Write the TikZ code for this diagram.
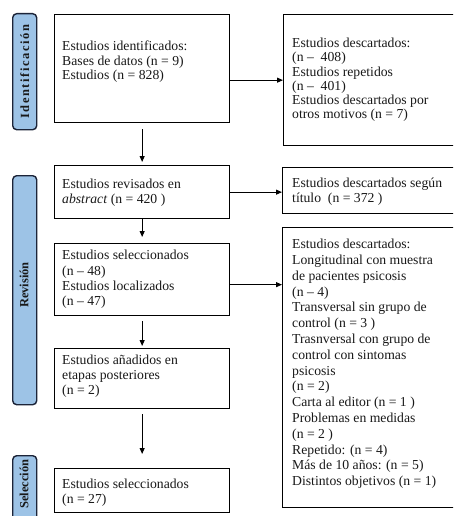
\documentclass[tikz,border=0pt]{standalone}
\usepackage{fontspec}
\setmainfont{Liberation Serif}
\usetikzlibrary{arrows.meta}
\definecolor{barfill}{RGB}{157,195,230}
\definecolor{barline}{RGB}{28,36,56}
\definecolor{txtcol}{RGB}{25,25,25}
\tikzset{
  box/.style={draw=black, line width=1.3pt, inner sep=0pt, anchor=north west},
  bar/.style={draw=barline, fill=barfill, line width=1.4pt, rounded corners=4pt, inner sep=0pt, anchor=north west},
  txt/.style={font=\fontsize{13.7}{#1}\selectfont, text=txtcol, align=left, inner sep=0pt, anchor=north west},
  txt/.default=15,
  bartxt/.style={font=\bfseries\fontsize{12.5}{13}\selectfont, text=txtcol, rotate=90, inner sep=0pt},
  arr/.style={draw=black, line width=0.9pt, -{Triangle[length=6pt,width=5pt]}},
}
\newcommand{\ks}{\kern1.6pt}
\begin{document}
\begin{tikzpicture}[x=1pt,y=-1pt]
\useasboundingbox (0,0) rectangle (453,516);
\clip (0,0) rectangle (453,516);
\fill[white] (0,0) rectangle (453,516);

% phase bars
\node[bar, minimum width=24pt, minimum height=116pt] (bar1) at (12,13) {};
\node[bar, minimum width=24pt, minimum height=229pt] (bar2) at (12,175) {};
\node[bar, minimum width=24pt, minimum height=90pt] (bar3) at (12,455) {};
\node[bartxt] (lab1) at (bar1.center) {I\ks d\ks e\ks n\ks t\ks i\ks f\ks i\ks c\ks a\ks c\ks i\ks ó\ks n};
\node[bartxt] (lab2) at (24,285) {Revisión};
\node[bartxt] (lab3) at (24,484) {Selección};

% left boxes
\node[box, minimum width=175pt, minimum height=108pt] (b1) at (54,14) {};
\node[box, minimum width=175pt, minimum height=53pt] (b2) at (54,165) {};
\node[box, minimum width=175pt, minimum height=72pt] (b3) at (54,243) {};
\node[box, minimum width=175pt, minimum height=60pt] (b4) at (54,348) {};
\node[box, minimum width=175pt, minimum height=44pt] (b5) at (54,468) {};

% right boxes
\node[box, minimum width=176pt, minimum height=131pt] (r1) at (283,14) {};
\node[box, minimum width=177pt, minimum height=46pt] (r2) at (282,167) {};
\node[box, minimum width=177pt, minimum height=280pt] (r3) at (282,227) {};

% texts
\node[txt=14.5] (t1) at (62,41) {Estudios identificados:\\Bases de datos (n = 9)\\Estudios (n = 828)};
\node[txt] (t2) at (62,179) {Estudios revisados en\\\textit{abstract} (n = 420 )};
\node[txt=15.3] (t3) at (62,250) {Estudios seleccionados\\(n – 48)\\Estudios localizados\\(n – 47)};
\node[txt] (t4) at (62,355) {Estudios añadidos en\\etapas posteriores\\(n = 2)};
\node[txt] (t5) at (62,479) {Estudios seleccionados\\(n = 27)};

\node[txt=14.2] (u1) at (292,38) {Estudios descartados:\\(n –~~408)\\Estudios repetidos\\(n –~~401)\\Estudios descartados por\\otros motivos (n = 7)};
\node[txt] (u2) at (292,178) {Estudios descartados según\\título~~(n = 372 )};
\node[txt=15.8] (u3) at (292,239) {Estudios descartados:\\Longitudinal con muestra\\de pacientes psicosis\\(n – 4)\\Transversal sin grupo de\\control (n = 3 )\\Trasnversal con grupo de\\control con sintomas\\psicosis\\(n = 2)\\Carta al editor (n = 1 )\\Problemas en medidas\\(n = 2 )\\Repetido: (n = 4)\\Más de 10 años: (n = 5)\\Distintos objetivos (n = 1)};

% connectors
\draw[arr] (b1.east |- r1.west) -- (r1.west);
\draw[arr] (b2.east) -- (b2.east -| r2.west);
\draw[arr] ([yshift=-5pt]b3.east) -- ([yshift=-5pt]b3.east -| r3.west);
\draw[arr, shorten <=6pt, shorten >=3pt] (b1.south) -- (b2.north);
\draw[arr, shorten >=6pt] (b2.south) -- (b3.north);
\draw[arr, shorten <=5pt, shorten >=2pt] (b3.south) -- (b4.north);
\draw[arr, shorten <=5pt, shorten >=14pt] (b4.south) -- (b5.north);
\end{tikzpicture}
\end{document}
